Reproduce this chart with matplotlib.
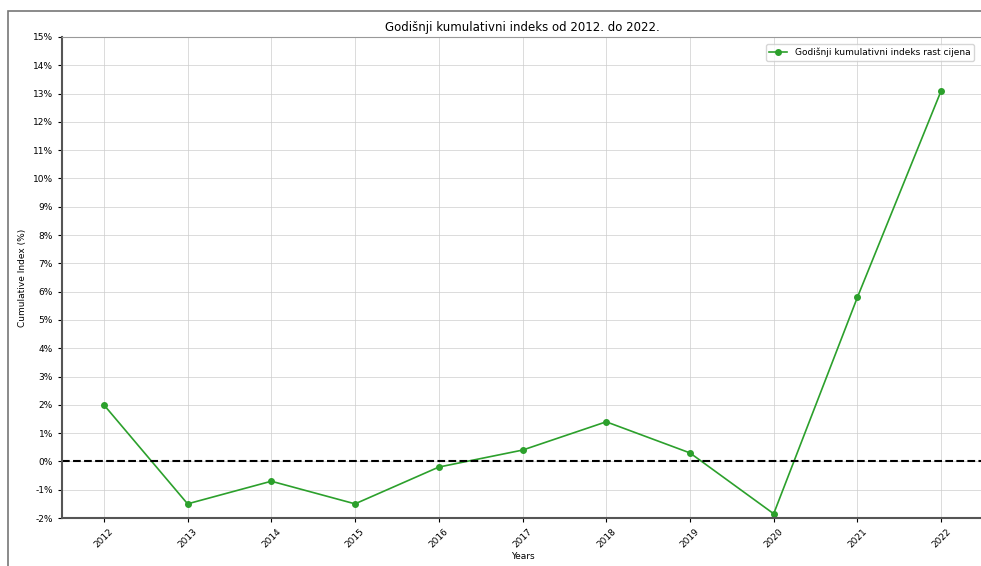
import matplotlib.pyplot as plt
from matplotlib.patches import Rectangle
from matplotlib.ticker import FuncFormatter

# Data
years = [2012, 2013, 2014, 2015, 2016, 2017, 2018, 2019, 2020, 2021, 2022]
cumulative_index = [2.0, -1.5, -0.7, -1.5, -0.2, 0.4, 1.4, 0.3, -1.85, 5.8, 13.1]
y_ticks = list(range(-2, 16))

fig = plt.figure(figsize=(9.81, 5.66), dpi=100)
ax = fig.add_axes([62 / 981, 48 / 566, 921 / 981, 481 / 566])

# outer frame of the screenshot
fig.patches.append(Rectangle((8 / 981, -0.01), 1.0, 555 / 566 + 0.01,
                             transform=fig.transFigure, fill=False,
                             edgecolor="#777777", linewidth=1.2))

ax.plot(years, cumulative_index, marker="o", markersize=4, color="#2ca02c",
        linewidth=1.2, label="Godišnji kumulativni indeks rast cijena")
ax.axhline(0, color="black", linestyle="--", linewidth=1.5)

ax.set_ylim(-2, 15)
ax.set_xlim(2011.5, 2022.5)
ax.set_yticks(y_ticks)
ax.yaxis.set_major_formatter(FuncFormatter(lambda v, _: f"{v:.0f}%"))
ax.set_xticks(years)
ax.set_xticklabels([str(y) for y in years], rotation=45)
ax.tick_params(labelsize=6.5, length=3)
ax.grid(True, color="#cccccc", linewidth=0.6, alpha=0.8)

ax.set_title("Godišnji kumulativni indeks od 2012. do 2022.", fontsize=8.5, pad=4)
ax.set_xlabel("Years", fontsize=6.5, labelpad=2)
ax.set_ylabel("Cumulative Index (%)", fontsize=6.5, labelpad=4)
ax.legend(loc="upper right", fontsize=6.5, bbox_to_anchor=(0.995, 0.995))

for side in ["left", "bottom"]:
    ax.spines[side].set_linewidth(1.5)
    ax.spines[side].set_color("#555555")
ax.spines["top"].set_color("#999999")

fig.savefig("out.png", dpi=100)
